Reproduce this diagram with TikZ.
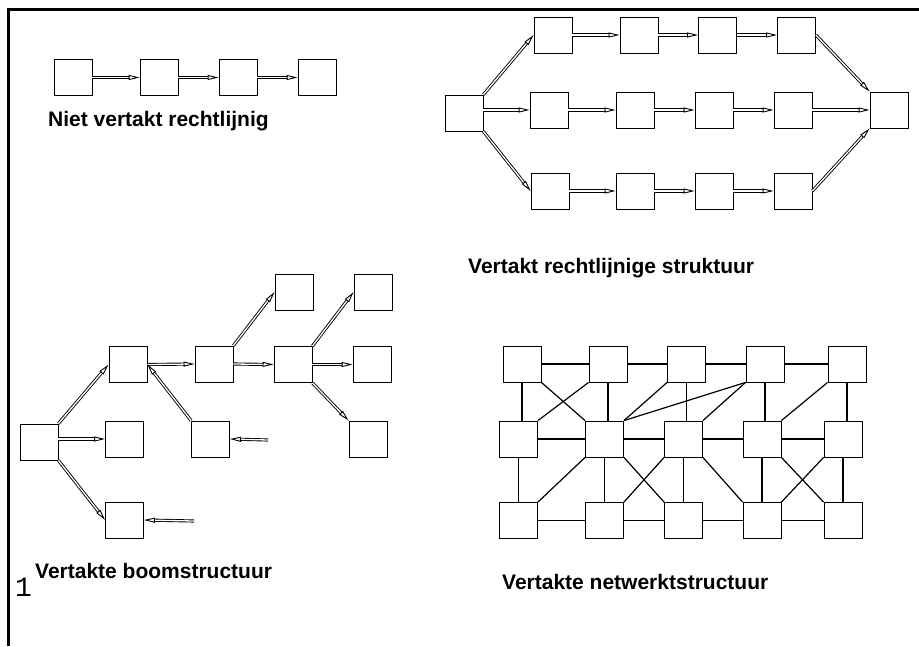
\documentclass[tikz,border=0pt]{standalone}
\usepackage{fontspec}
\setmainfont{Liberation Sans}
\newfontfamily\cijferfont{Liberation Mono}
\usetikzlibrary{arrows.meta}
\tikzset{
  blok/.style={draw, line width=0.8pt, minimum width=38pt, minimum height=36pt, inner sep=0pt},
  pijl/.style={draw, double, double distance=1.3pt, line width=0.9pt, -{Triangle[open, length=11pt, width=5pt]}},
  lijn/.style={draw, line width=1.2pt},
  titel/.style={anchor=base west, inner sep=0pt, font=\fontsize{21}{24}\selectfont\bfseries}
}

\begin{document}
\begin{tikzpicture}[x=1pt, y=-1pt]
  \useasboundingbox (0,0) rectangle (919,646);
  \draw[line width=3pt] (8.5,646) -- (8.5,9.5) -- (919,9.5);

  % niet vertakt
  \foreach \i/\x in {1/73,2/159,3/238,4/317}
    \node[blok] (a\i) at (\x,77.5) {};
  \foreach \i/\j in {1/2,2/3,3/4}
    \draw[pijl] (a\i) -- (a\j);
  \node[titel] (titela) at (48,126) {Niet vertakt rechtlijnig};

  % vertakt rechtlijnig
  \node[blok] (L) at (464,113) {};
  \node[blok] (R) at (889,110) {};
  \foreach \i/\x in {1/553,2/639,3/717.5,4/796.5}
    \node[blok] (b\i) at (\x,35) {};
  \foreach \i/\x in {1/549,2/635,3/714,4/793}
    \node[blok] (c\i) at (\x,110) {};
  \foreach \i/\x in {1/550,2/635,3/714,4/793}
    \node[blok] (d\i) at (\x,191) {};
  \draw[pijl] (L.north east) -- (b1.west);
  \draw[pijl] (L.east |- c1.west) -- (c1.west);
  \draw[pijl] (L.south east) -- (d1.west);
  \foreach \i/\j in {1/2,2/3,3/4} {
    \draw[pijl] (b\i) -- (b\j);
    \draw[pijl] (c\i) -- (c\j);
    \draw[pijl] (d\i) -- (d\j);
  }
  \draw[pijl] (b4.east) -- (R.north west);
  \draw[pijl] (c4.east) -- (R.west);
  \draw[pijl] (d4.east) -- (R.south west);
  \node[titel] (titelb) at (468,273) {Vertakt rechtlijnige struktuur};

  % boomstructuur
  \node[blok] (root) at (39,442) {};
  \node[blok] (r1) at (128,364.5) {};
  \node[blok] (r2) at (124.5,439) {};
  \node[blok] (r3) at (124.5,520) {};
  \node[blok] (k1) at (214,364) {};
  \node[blok] (k2) at (210.5,439) {};
  \node[blok] (k3) at (294,292) {};
  \node[blok] (e1) at (293,364.5) {};
  \node[blok] (e2) at (373,292) {};
  \node[blok] (e3) at (372,364.5) {};
  \node[blok] (e4) at (368,439) {};
  \coordinate (vrij1) at (268,440);
  \coordinate (vrij2) at (194,521);
  \draw[pijl] (root.north east) -- (r1.west);
  \draw[pijl] (root.east |- r2.west) -- (r2.west);
  \draw[pijl] (root.south east) -- (r3.west);
  \draw[pijl] (r1.east) -- (k1.west);
  \draw[pijl] (k2.north west) -- (r1.east);
  \draw[pijl] (vrij1) -- (k2.east);
  \draw[pijl] (vrij2) -- (r3.east);
  \draw[pijl] (k1.north east) -- (k3.west);
  \draw[pijl] (k1.east) -- (e1.west);
  \draw[pijl] (e1.north east) -- (e2.west);
  \draw[pijl] (e1.east) -- (e3.west);
  \draw[pijl] (e1.south east) -- (e4.north west);
  \node[titel] (titelc) at (35,578) {Vertakte boomstructuur};
  \node[anchor=base west, inner sep=0pt, font=\cijferfont\fontsize{28}{30}\selectfont] (een) at (15,596) {1};

  % netwerkstructuur
  \foreach \i/\x in {1/522,2/608,3/686.5,4/765,5/847}
    \node[blok] (t\i) at (\x,364) {};
  \foreach \i/\x in {1/518.5,2/604.5,3/683.5,4/762,5/843} {
    \node[blok] (m\i) at (\x,439) {};
    \node[blok] (n\i) at (\x,520.5) {};
  }
  \foreach \i/\j in {1/2,2/3,3/4,4/5} {
    \draw[lijn] (t\i) -- (t\j);
    \draw[lijn] (m\i) -- (m\j);
    \draw[lijn] (n\i) -- (n\j);
  }
  \foreach \i in {1,...,5} {
    \draw[lijn] (t\i.south) -- (t\i.south |- m\i.north);
    \draw[lijn] (m\i.south) -- (m\i.south |- n\i.north);
  }
  \draw[lijn] (t1.south east) -- (m2.north west);
  \draw[lijn] (t2.south west) -- (m1.north east);
  \draw[lijn] (t3.south west) -- (m2.north east);
  \draw[lijn] (t4.south west) -- (m2.north east);
  \draw[lijn] (t4.south west) -- (m3.north east);
  \draw[lijn] (t5.south west) -- (m4.north east);
  \draw[lijn] (m2.south west) -- (n1.north east);
  \draw[lijn] (m2.south east) -- (n3.north west);
  \draw[lijn] (m3.south west) -- (n2.north east);
  \draw[lijn] (m3.south east) -- (n4.north west);
  \draw[lijn] (m4.south east) -- (n5.north west);
  \draw[lijn] (m5.south west) -- (n4.north east);
  \node[titel] (titeld) at (502,589) {Vertakte netwerktstructuur};
\end{tikzpicture}
\end{document}
